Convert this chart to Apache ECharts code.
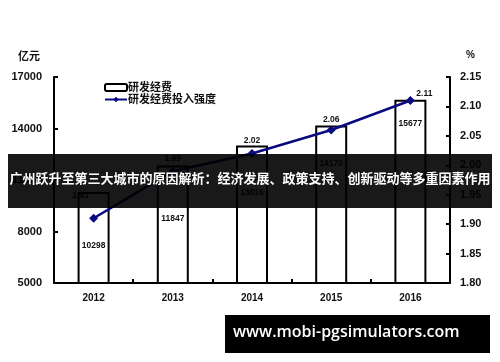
<!DOCTYPE html>
<html><head><meta charset="utf-8">
<script src="https://cdn.jsdelivr.net/npm/echarts@6/dist/echarts.min.js"></script>
<style>html,body{margin:0;padding:0;background:#fff}#c{width:500px;height:362px}</style>
</head><body><div id="c"></div>
<script>
// ---- data ----
const years = ['2012', '2013', '2014', '2015', '2016'];
const rdSpending = [10298, 11847, 13016, 14170, 15677];      // 亿元
const rdIntensity = [1.91, 1.99, 2.02, 2.06, 2.11];          // %
const leftTicks = [5000, 8000, 11000, 14000, 17000];
const rightTicks = [1.80, 1.85, 1.90, 1.95, 2.00, 2.05, 2.10, 2.15];
const barName = '研发经费';
const lineName = '研发经费投入强度';
const leftUnit = '亿元';
const rightUnit = '%';
const bannerText = '广州跃升至第三大城市的原因解析：经济发展、政策支持、创新驱动等多重因素作用';
const watermarkText = 'www.mobi-pgsimulators.com';

// ---- styling helpers (label placements, not data) ----
const barLabelDistance = [49, 49, 43, 34, 20];
const lineLabelOffset = [[-13, -10], [0, 0], [0, 0], [0, 2], [14, 6]];

const FONT = '"Liberation Sans", Arial, "Noto Sans CJK SC", sans-serif';
const TXT = '#111';

const chart = echarts.init(document.getElementById('c'), null, {renderer: 'canvas'});
chart.setOption({
  animation: false,
  textStyle: {fontFamily: FONT},
  grid: {left: 54, right: 50, top: 77, bottom: 79, containLabel: false},
  legend: {
    orient: 'vertical', left: 99, top: 77, itemGap: 1, itemWidth: 22, itemHeight: 7,
    textStyle: {fontSize: 11, fontWeight: 'bold', color: TXT, fontFamily: FONT, padding: [0, 0, 0, -4]},
    data: [barName, lineName]
  },
  xAxis: {
    type: 'category', data: years,
    axisLine: {lineStyle: {color: '#000', width: 2}},
    axisTick: {show: true, inside: true, length: 4, lineStyle: {color: '#000', width: 2}},
    axisLabel: {fontSize: 10, fontWeight: 'bold', color: TXT, margin: 10}
  },
  yAxis: [{
    type: 'value', min: leftTicks[0], max: leftTicks[leftTicks.length - 1],
    interval: leftTicks[1] - leftTicks[0],
    name: leftUnit, nameLocation: 'end', nameGap: 15,
    nameTextStyle: {fontSize: 11, fontWeight: 'bold', color: TXT, align: 'right', padding: [0, 14, 0, 0]},
    axisLine: {show: true, lineStyle: {color: '#000', width: 2}},
    axisTick: {show: true, inside: true, length: 4, lineStyle: {color: '#000', width: 2}},
    axisLabel: {fontSize: 11, fontWeight: 'bold', color: TXT, margin: 12, formatter: v => String(v)},
    splitLine: {show: false}
  }, {
    type: 'value', min: rightTicks[0], max: rightTicks[rightTicks.length - 1],
    interval: 0.05, position: 'right',
    name: rightUnit, nameLocation: 'end', nameGap: 17,
    nameTextStyle: {fontSize: 10, fontWeight: 'bold', color: TXT, align: 'left', padding: [0, 0, 0, 16]},
    axisLine: {show: true, lineStyle: {color: '#000', width: 2}},
    axisTick: {show: true, inside: true, length: 4, lineStyle: {color: '#000', width: 2}},
    axisLabel: {fontSize: 11, fontWeight: 'bold', color: TXT, margin: 10, formatter: v => v.toFixed(2)},
    splitLine: {show: false}
  }],
  series: [{
    name: barName, type: 'bar', yAxisIndex: 0, barWidth: 32,
    itemStyle: {color: '#fff', borderColor: '#000', borderWidth: 2},
    data: rdSpending.map((v, i) => ({
      value: v,
      label: {show: true, position: 'insideTop', distance: barLabelDistance[i],
        fontSize: 8.5, fontWeight: 'bold', color: TXT}
    })),
    z: 2
  }, {
    name: lineName, type: 'line', yAxisIndex: 1,
    symbol: 'diamond', symbolSize: 9,
    lineStyle: {color: '#0a0a80', width: 2.5},
    itemStyle: {color: '#0a0a80'},
    data: rdIntensity.map((v, i) => ({
      value: v,
      label: {show: true, position: 'top', distance: 4, offset: lineLabelOffset[i],
        fontSize: 8.5, fontWeight: 'bold', color: TXT, formatter: p => p.value.toFixed(2)}
    })),
    z: 3
  }],
  graphic: [{
    type: 'rect', z: 100, left: 8, top: 154,
    shape: {width: 484, height: 54},
    style: {fill: 'rgba(0,0,0,0.9)'}
  }, {
    type: 'text', z: 101, left: 'center', top: 172,
    style: {text: bannerText, fill: '#fff', font: 'bold 13px "Noto Sans CJK SC", sans-serif'}
  }, {
    type: 'rect', z: 100, left: 225, top: 315,
    shape: {width: 265, height: 38},
    style: {fill: '#000'}
  }, {
    type: 'text', z: 101, left: 233, top: 324,
    style: {text: watermarkText, fill: '#fff', font: '600 16px "Open Sans", sans-serif'}
  }]
});
</script>
</body></html>
